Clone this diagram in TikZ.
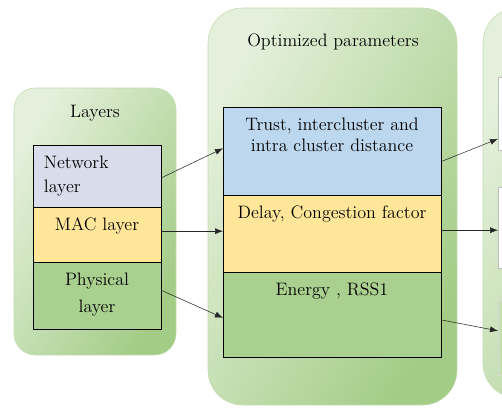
\documentclass[tikz,border=0pt]{standalone}
\usetikzlibrary{
	arrows.meta,positioning,calc
}
\definecolor{panellight}{HTML}{E4F0DB}
\definecolor{paneldark}{HTML}{A3CC86}
\definecolor{panelrim}{HTML}{C2DBB0}
\definecolor{netgrey}{HTML}{D9DCEA}
\definecolor{trustblue}{HTML}{BDD7EE}
\definecolor{macyellow}{HTML}{FFE699}
\definecolor{phygreen}{HTML}{A9D08E}
\tikzset{
	panel/.style={
		rectangle, rounded corners=20pt, thin, draw=panelrim,
		top color=panellight, bottom color=paneldark, shading angle=60
	},
	%
	layerbox/.style={
		rectangle, anchor=north, thin, draw=black, outer sep=0pt, inner sep=0pt
	},
	%
	farbox/.style={
		rectangle, anchor=north, thin, draw=black!25, outer sep=0pt, inner sep=0pt
	},
	%
	intext/.style={
		anchor=north, inner xsep=8pt, inner ysep=8pt, align=center,
		font=\fontsize{13.5}{18}\selectfont
	},
	%
	arr/.style={
		-{Latex[length=6pt,width=4.5pt]}, thin, black!85
	}
}

\begin{document}
\begin{tikzpicture}[x=0.75pt, y=-0.75pt, font=\fontsize{13.5}{16}\selectfont]
    \useasboundingbox (0,0) rectangle (502,410);
    \clip (0,0) rectangle (502,410);
    % panels
    \node(lay)[panel, rounded corners=16pt, minimum width=121.5pt, minimum height=200.25pt] at (95,221.5) {};
    \node(opt)[panel, rounded corners=26pt, minimum width=186.75pt, minimum height=297.75pt] at (332.5,206.5) {};
    \node(nxt)[panel, rounded corners=26pt, minimum width=195pt, minimum height=292.5pt] at (613,203) {};
    \node(laytitle) at (95,113) {Layers};
    \node(opttitle) at (333,42) {Optimized parameters};
    % layers
    \node(net)[layerbox, fill=netgrey, minimum width=96pt, minimum height=46.5pt,
        label={[intext, anchor=north west, align=left]north west:{Network\\layer}}] at (97,145) {};
    \node(mac)[layerbox, fill=macyellow, minimum width=96pt, minimum height=41.25pt,
        label={[intext]north:MAC layer}, below=0pt of net] {};
    \node(phy)[layerbox, fill=phygreen, minimum width=96pt, minimum height=50.25pt,
        label={[intext, font=\fontsize{13.5}{20}\selectfont]north:{Physical\\layer}}, below=0pt of mac] {};
    % optimized parameters
    \node(trust)[layerbox, fill=trustblue, minimum width=163.5pt, minimum height=66pt,
        label={[intext, font=\fontsize{13.5}{15.5}\selectfont]north:{Trust, intercluster and\\intra cluster distance}}] at (332,107) {};
    \node(delay)[layerbox, fill=macyellow, minimum width=163.5pt, minimum height=57.75pt,
        label={[intext]north:{Delay, Congestion factor}}, below=0pt of trust] {};
    \node(energy)[layerbox, fill=phygreen, minimum width=163.5pt, minimum height=63.75pt,
        label={[intext]north:{Energy , RSS1}}, below=0pt of delay] {};
    % next stage
    \node(nb)[farbox, left color=white, right color=trustblue, minimum width=166.5pt, minimum height=54.75pt] at (609,77) {};
    \node(ny)[farbox, left color=white, right color=macyellow, minimum width=166.5pt, minimum height=60.75pt] at (609,187) {};
    \node(ng)[farbox, draw=black!15, fill=phygreen!70, minimum width=166.5pt, minimum height=56.25pt] at (609,300) {};
    % connectors
    \draw[arr] ([yshift=-1.5pt]net.east) -- ([yshift=2pt]trust.west);
    \draw[arr] ([yshift=2.5pt]mac.east) -- ([yshift=2.5pt]mac.east -| delay.west);
    \draw[arr] ([yshift=4pt]phy.east) -- ([yshift=-2.5pt]energy.west);
    \draw[arr] ([yshift=-8pt]trust.east) -- ([yshift=-19pt]nb.west);
    \draw[arr] ([yshift=2.5pt]delay.east) -- ([yshift=2.5pt]delay.east -| ny.west);
    \draw[arr] ([yshift=-4pt]energy.east) -- ([yshift=5pt]ng.west);
\end{tikzpicture}
\end{document}
